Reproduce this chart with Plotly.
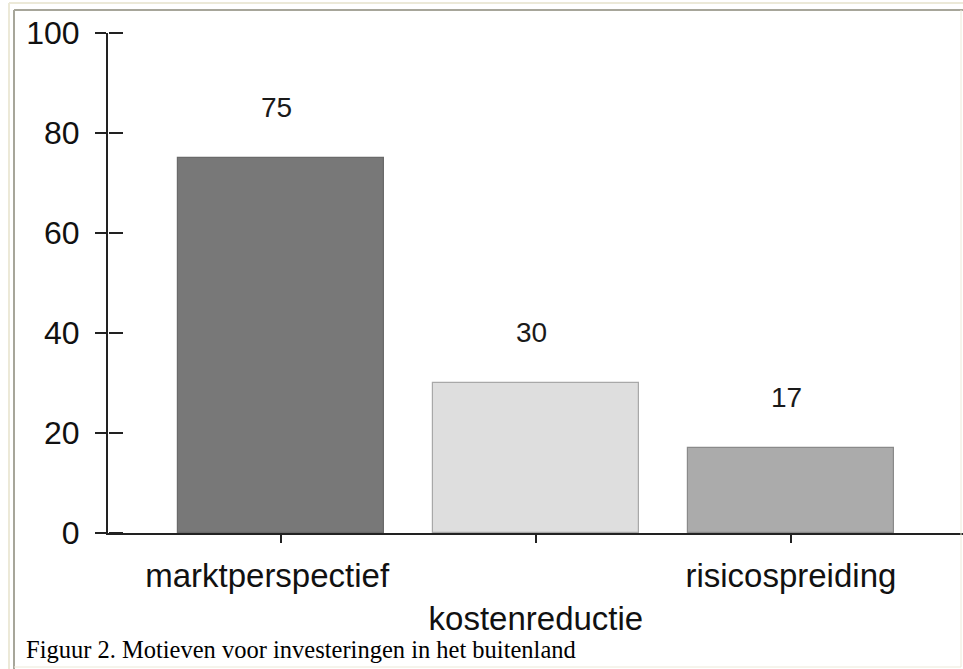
import plotly.graph_objects as go

# Motives for investing abroad
categories = ["marktperspectief", "kostenreductie", "risicospreiding"]
values = [75, 30, 17]
tick_text = ["marktperspectief\u00a0\u00a0\u00a0", "<br>kostenreductie", "risicospreiding"]
bar_colors = ["#787878", "#dedede", "#ababab"]
bar_lines = ["#6a6a6a", "#a8a8a8", "#8a8a8a"]
y_ticks = [0, 20, 40, 60, 80, 100]
caption = "Figuur 2. Motieven voor investeringen in het buitenland"

W, H = 963, 669
L, R, T, B = 108, 0, 33, 136
PW, PH = W - L - R, H - T - B


def px(x):
    return (x - L) / PW


def py(y):
    return (H - B - y) / PH


sans = "Liberation Sans, Arial, sans-serif"

fig = go.Figure()
fig.add_trace(go.Bar(
    x=categories,
    y=values,
    width=0.81,
    marker=dict(color=bar_colors, line=dict(color=bar_lines, width=1.2)),
    hoverinfo="skip",
))
# invisible companion trace so the right-pointing tick axis is active
fig.add_trace(go.Scatter(x=[categories[0]], y=[0], yaxis="y2", mode="markers",
                         marker=dict(opacity=0), hoverinfo="skip", showlegend=False))

for c, v in zip(categories, values):
    fig.add_annotation(x=c, y=v, text=str(v), showarrow=False, yanchor="bottom",
                       yshift=33, xshift=-4, font=dict(family=sans, size=28, color="#1a1a1a"))

fig.add_annotation(xref="paper", yref="paper", x=px(24), y=py(665), xanchor="left",
                   yanchor="bottom", text=caption, showarrow=False,
                   font=dict(family="Liberation Serif, Times New Roman, serif", size=24.5, color="#000"))

# window frame lines
frame = [
    (9, 3, 963, 3, "#ece9d8", 2),
    (9, 3, 9, 669, "#ece9d8", 2),
    (14, 10, 963, 10, "#a7a69a", 2),
    (14, 10, 14, 669, "#a7a69a", 2),
    (961, 10, 961, 667, "#ece9d8", 1),
    (14, 667, 961, 667, "#ece9d8", 1),
]
for x0, y0, x1, y1, col, w in frame:
    fig.add_shape(type="line", xref="paper", yref="paper", x0=px(x0), y0=py(y0),
                  x1=px(x1), y1=py(y1), line=dict(color=col, width=w), layer="above")

fig.update_layout(
    width=W, height=H,
    margin=dict(l=L, r=R, t=T, b=B, pad=0),
    paper_bgcolor="white", plot_bgcolor="white",
    showlegend=False,
    bargap=0,
    xaxis=dict(
        type="category", range=[-0.678, 2.675],
        tickmode="array", tickvals=categories, ticktext=tick_text,
        showline=True, linecolor="#222", linewidth=2,
        ticks="outside", ticklen=8, tickwidth=2, tickcolor="#222",
        showgrid=False, zeroline=False,
        tickfont=dict(family=sans, size=33, color="#111"),
        ticklabelstandoff=4,
    ),
    yaxis=dict(
        range=[0, 100], tickmode="array", tickvals=y_ticks,
        showline=True, linecolor="#222", linewidth=2,
        ticks="outside", ticklen=11, tickwidth=2, tickcolor="#222",
        showgrid=False, zeroline=False,
        tickfont=dict(family=sans, size=32, color="#111"),
        ticklabelstandoff=9,
    ),
    # second axis on the same line, ticks pointing into the plot
    yaxis2=dict(
        range=[0, 100], overlaying="y", side="right", anchor="free", position=0,
        tickmode="array", tickvals=y_ticks,
        showline=False, ticks="outside", ticklen=14, tickwidth=2, tickcolor="#222",
        showticklabels=False, showgrid=False, zeroline=False,
    ),
)

fig.write_html("out.html")
